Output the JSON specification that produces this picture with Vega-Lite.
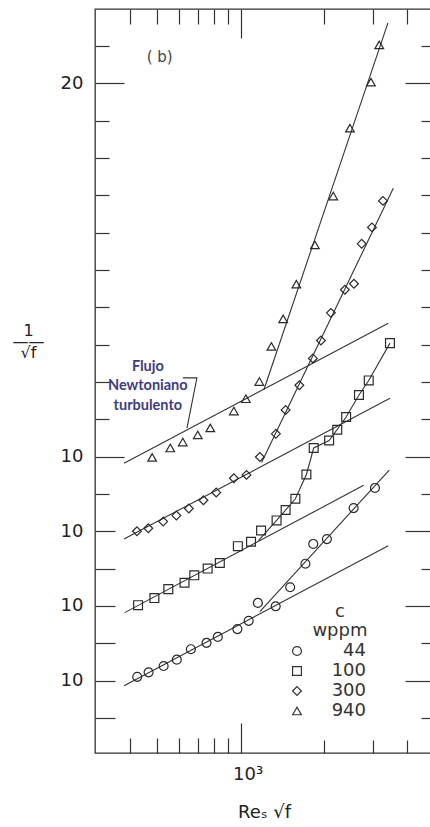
{
  "$schema": "https://vega.github.io/schema/vega-lite/v6.json",
  "width": 338,
  "height": 744,
  "autosize": {"type": "none"},
  "padding": {"left": 95, "top": 9, "right": 0, "bottom": 74},
  "background": "white",
  "config": {
    "view": {"stroke": "#333", "strokeWidth": 1.3},
    "axis": {
      "domain": false,
      "grid": false,
      "tickColor": "#333",
      "tickWidth": 1.2,
      "labelFont": "DejaVu Sans",
      "labelColor": "#222",
      "labelFontSize": 18,
      "labelOverlap": false,
      "labelFlush": false,
      "labelBound": false,
      "titleFont": "DejaVu Sans",
      "titleFontWeight": "normal",
      "titleColor": "#222"
    },
    "legend": {
      "orient": "none",
      "legendX": 193,
      "legendY": 633,
      "labelFont": "DejaVu Sans",
      "labelFontSize": 18,
      "labelColor": "#333",
      "labelAlign": "right",
      "labelOffset": 60,
      "symbolFillColor": "transparent",
      "symbolStrokeColor": "#333",
      "symbolStrokeWidth": 1.2,
      "rowPadding": 2
    }
  },
  "datasets": {
    "points": [
      {"c": "940", "x": 480, "y": 9.98},
      {"c": "940", "x": 558, "y": 10.23},
      {"c": "940", "x": 619, "y": 10.39},
      {"c": "940", "x": 701, "y": 10.58},
      {"c": "940", "x": 778, "y": 10.77},
      {"c": "940", "x": 946, "y": 11.22},
      {"c": "940", "x": 1045, "y": 11.55},
      {"c": "940", "x": 1169, "y": 12.01},
      {"c": "940", "x": 1292, "y": 12.95},
      {"c": "940", "x": 1425, "y": 13.69},
      {"c": "940", "x": 1590, "y": 14.62},
      {"c": "940", "x": 1854, "y": 15.67},
      {"c": "940", "x": 2160, "y": 16.98},
      {"c": "940", "x": 2481, "y": 18.80},
      {"c": "940", "x": 2954, "y": 20.03},
      {"c": "940", "x": 3164, "y": 21.03},
      {"c": "300", "x": 423, "y": 8.00},
      {"c": "300", "x": 465, "y": 8.08},
      {"c": "300", "x": 526, "y": 8.26},
      {"c": "300", "x": 587, "y": 8.42},
      {"c": "300", "x": 651, "y": 8.61},
      {"c": "300", "x": 735, "y": 8.83},
      {"c": "300", "x": 817, "y": 9.04},
      {"c": "300", "x": 946, "y": 9.42},
      {"c": "300", "x": 1051, "y": 9.51},
      {"c": "300", "x": 1174, "y": 9.99},
      {"c": "300", "x": 1341, "y": 10.61},
      {"c": "300", "x": 1454, "y": 11.25},
      {"c": "300", "x": 1630, "y": 11.91},
      {"c": "300", "x": 1824, "y": 12.63},
      {"c": "300", "x": 1950, "y": 13.11},
      {"c": "300", "x": 2118, "y": 13.85},
      {"c": "300", "x": 2379, "y": 14.47},
      {"c": "300", "x": 2565, "y": 14.63},
      {"c": "300", "x": 2734, "y": 15.70},
      {"c": "300", "x": 2979, "y": 16.14},
      {"c": "300", "x": 3264, "y": 16.85},
      {"c": "100", "x": 427, "y": 6.02},
      {"c": "100", "x": 489, "y": 6.21},
      {"c": "100", "x": 549, "y": 6.45},
      {"c": "100", "x": 628, "y": 6.62},
      {"c": "100", "x": 681, "y": 6.82},
      {"c": "100", "x": 761, "y": 7.00},
      {"c": "100", "x": 842, "y": 7.15},
      {"c": "100", "x": 978, "y": 7.60},
      {"c": "100", "x": 1091, "y": 7.72},
      {"c": "100", "x": 1186, "y": 8.02},
      {"c": "100", "x": 1349, "y": 8.29},
      {"c": "100", "x": 1454, "y": 8.57},
      {"c": "100", "x": 1577, "y": 8.87},
      {"c": "100", "x": 1728, "y": 9.52},
      {"c": "100", "x": 1836, "y": 10.23},
      {"c": "100", "x": 2087, "y": 10.43},
      {"c": "100", "x": 2233, "y": 10.72},
      {"c": "100", "x": 2404, "y": 11.06},
      {"c": "100", "x": 2674, "y": 11.65},
      {"c": "100", "x": 2900, "y": 12.04},
      {"c": "100", "x": 3459, "y": 13.04},
      {"c": "44", "x": 424, "y": 4.10},
      {"c": "44", "x": 466, "y": 4.22},
      {"c": "44", "x": 528, "y": 4.39},
      {"c": "44", "x": 589, "y": 4.56},
      {"c": "44", "x": 662, "y": 4.84},
      {"c": "44", "x": 754, "y": 5.01},
      {"c": "44", "x": 828, "y": 5.17},
      {"c": "44", "x": 974, "y": 5.38},
      {"c": "44", "x": 1070, "y": 5.60},
      {"c": "44", "x": 1155, "y": 6.08},
      {"c": "44", "x": 1339, "y": 5.99},
      {"c": "44", "x": 1510, "y": 6.50},
      {"c": "44", "x": 1714, "y": 7.13},
      {"c": "44", "x": 1829, "y": 7.66},
      {"c": "44", "x": 2049, "y": 7.79},
      {"c": "44", "x": 2558, "y": 8.62},
      {"c": "44", "x": 3054, "y": 9.16}
    ],
    "lines": [
      {"id": "940N", "k": 1, "x": 380, "y": 9.82},
      {"id": "940N", "k": 2, "x": 3411, "y": 13.57},
      {"id": "940D", "k": 1, "x": 1214, "y": 11.79},
      {"id": "940D", "k": 2, "x": 3402, "y": 21.62},
      {"id": "300N", "k": 1, "x": 380, "y": 7.79},
      {"id": "300N", "k": 2, "x": 3459, "y": 11.56},
      {"id": "300D", "k": 1, "x": 1191, "y": 9.84},
      {"id": "300D", "k": 2, "x": 3556, "y": 17.19},
      {"id": "100N", "k": 1, "x": 382, "y": 5.82},
      {"id": "100N", "k": 2, "x": 2780, "y": 9.23},
      {"id": "100D", "k": 1, "x": 1160, "y": 7.75},
      {"id": "100D", "k": 2, "x": 1349, "y": 8.29},
      {"id": "100D", "k": 3, "x": 1577, "y": 8.87},
      {"id": "100D", "k": 4, "x": 1728, "y": 9.52},
      {"id": "100D", "k": 5, "x": 1836, "y": 10.23},
      {"id": "100D", "k": 6, "x": 2087, "y": 10.43},
      {"id": "100D", "k": 7, "x": 2404, "y": 11.06},
      {"id": "100D", "k": 8, "x": 2674, "y": 11.65},
      {"id": "100D", "k": 9, "x": 2900, "y": 12.04},
      {"id": "100D", "k": 10, "x": 3459, "y": 13.04},
      {"id": "44N", "k": 1, "x": 380, "y": 3.86},
      {"id": "44N", "k": 2, "x": 3411, "y": 7.61},
      {"id": "44D", "k": 1, "x": 1174, "y": 5.85},
      {"id": "44D", "k": 2, "x": 3439, "y": 9.64},
      {"id": "bracket", "k": 1, "x": 619, "y": 12.11},
      {"id": "bracket", "k": 2, "x": 696, "y": 12.11},
      {"id": "bracket", "k": 3, "x": 641, "y": 10.76}
    ]
  },
  "resolve": {"axis": {"x": "independent", "y": "independent"}},
  "layer": [
    {
      "data": {"name": "lines"},
      "mark": {"type": "line", "color": "#333", "strokeWidth": 1.1},
      "encoding": {
        "x": {
          "field": "x", "type": "quantitative",
          "scale": {"type": "log", "domain": [298.6, 4945], "nice": false},
          "axis": {
            "orient": "bottom",
            "values": [400, 500, 600, 700, 800, 900, 1000, 2000, 3000, 4000],
            "labelExpr": "datum.value == 1000 ? '10³' : ''",
            "tickSize": {"condition": [{"test": "datum.value == 1000", "value": -30}, {"test": "datum.value > 1000", "value": -13}], "value": -15},
            "labelPadding": {"condition": {"test": "datum.value == 1000", "value": 42}, "value": 27},
            "labelOffset": 7,
            "title": "Reₛ  √f",
            "titleFontSize": 18,
            "titlePadding": 18
          }
        },
        "y": {
          "field": "y", "type": "quantitative",
          "scale": {"domain": [2.06, 21.99], "nice": false, "zero": false},
          "axis": {
            "orient": "left",
            "values": [3, 4, 5, 6, 7, 8, 9, 10, 11, 12, 13, 14, 15, 16, 17, 18, 19, 20, 21],
            "labelExpr": "datum.value == 20 ? '20' : (datum.value == 10 || datum.value == 8 || datum.value == 6 || datum.value == 4) ? '10' : ''",
            "tickSize": {"condition": [{"test": "datum.value == 20 || datum.value == 10", "value": -29}, {"test": "datum.value <= 8", "value": -20}], "value": -14},
            "labelPadding": {"condition": [{"test": "datum.value == 20 || datum.value == 10", "value": 41}, {"test": "datum.value <= 8", "value": 32}], "value": 26},
            "title": ["1", "——", "√f"],
            "titleAngle": 0,
            "titleAlign": "center",
            "titleBaseline": "middle",
            "titleFontSize": 16,
            "titleLineHeight": 11,
            "titleX": -67,
            "titleY": 321
          }
        },
        "detail": {"field": "id"},
        "order": {"field": "k"}
      }
    },
    {
      "data": {"name": "points"},
      "mark": {"type": "point", "filled": false, "color": "#2a2a2a", "strokeWidth": 1.2, "opacity": 1},
      "encoding": {
        "x": {
          "field": "x", "type": "quantitative",
          "axis": {
            "orient": "top",
            "values": [400, 500, 600, 700, 800, 900, 1000, 2000, 3000, 4000],
            "labels": false,
            "title": null,
            "tickSize": {"condition": {"test": "datum.value == 1000", "value": -29}, "value": -15}
          }
        },
        "y": {
          "field": "y", "type": "quantitative",
          "axis": {
            "orient": "right",
            "values": [3, 4, 5, 6, 7, 8, 9, 10, 11, 12, 13, 14, 15, 16, 17, 18, 19, 20, 21],
            "labels": false,
            "title": null,
            "tickSize": {"condition": {"test": "datum.value == 20 || datum.value == 10 || datum.value == 8 || datum.value == 6 || datum.value == 4", "value": -28}, "value": -12}
          }
        },
        "shape": {
          "field": "c", "type": "nominal",
          "scale": {"domain": ["44", "100", "300", "940"], "range": ["circle", "square", "diamond", "triangle-up"]},
          "legend": {"title": null}
        },
        "size": {
          "field": "c", "type": "nominal",
          "scale": {"domain": ["44", "100", "300", "940"], "range": [80, 75, 110, 130]},
          "legend": {"title": null}
        }
      }
    },
    {
      "data": {"values": [{}]},
      "mark": {"type": "text", "font": "DejaVu Sans", "fontSize": 18, "color": "#333", "align": "center", "baseline": "middle", "lineBreak": "\n", "lineHeight": 19},
      "encoding": {
        "x": {"datum": 2283, "type": "quantitative", "axis": null},
        "y": {"datum": 5.84, "type": "quantitative", "axis": null},
        "text": {"value": "c\nwppm"}
      }
    },
    {
      "data": {"values": [{}]},
      "mark": {"type": "text", "font": "DejaVu Sans", "fontSize": 15, "color": "#444", "align": "center", "baseline": "middle"},
      "encoding": {
        "x": {"datum": 511, "type": "quantitative", "axis": null},
        "y": {"datum": 20.71, "type": "quantitative", "axis": null},
        "text": {"value": "( b)"}
      }
    },
    {
      "data": {"values": [{}]},
      "mark": {"type": "text", "font": "Lato", "fontSize": 14.5, "fontWeight": "bold", "color": "#3d3d85", "align": "center", "baseline": "middle", "lineBreak": "\n", "lineHeight": 19.5},
      "encoding": {
        "x": {"datum": 463, "type": "quantitative", "axis": null},
        "y": {"datum": 12.41, "type": "quantitative", "axis": null},
        "text": {"value": "Flujo\nNewtoniano\nturbulento"}
      }
    }
  ]
}
